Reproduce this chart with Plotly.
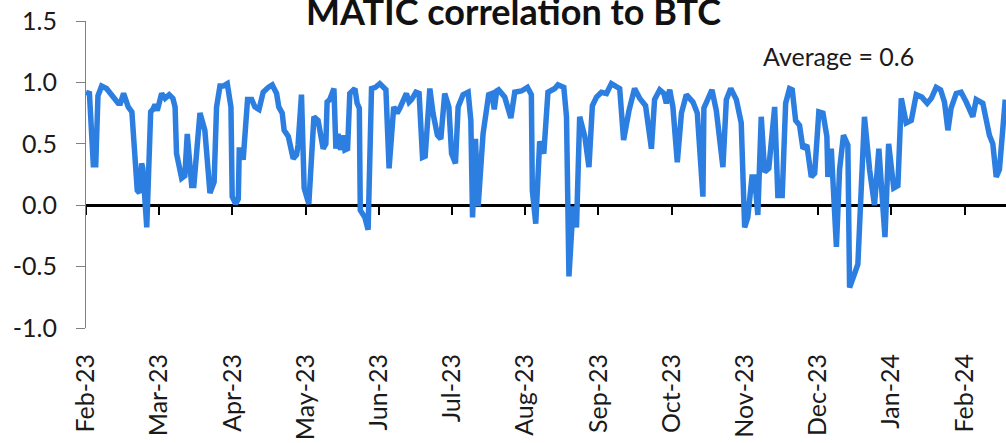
import pandas as pd
import plotly.graph_objects as go

# ---- data ----
start_date = "2023-02-08"
# day offsets from start_date
days = [0, 1.4, 3.0, 4.0, 4.9, 6.4, 8.4, 11.2, 13.2, 14.1, 15.4, 17.3, 18.8, 21.0, 21.9, 22.8, 23.3, 24.9,
        26.5, 27.4, 28.3, 29.2, 31.0, 32.4, 34.1, 35.6, 36.5, 37.1, 39.2, 40.5, 41.5, 43.3, 44.2, 46.7,
        48.7, 50.8, 52.5, 53.5, 54.9, 56.2, 57.9, 59.4, 59.9, 61.3, 62.4, 62.8, 63.8, 64.4, 65.1, 66.2,
        67.9, 69.2, 70.9, 72.6, 74.7, 76.3, 78.1, 79.0, 80.4, 81.2, 82.9, 84.9, 86.3, 86.9, 88.3, 89.4,
        91.3, 93.4, 95.1, 97.2, 98.3, 98.8, 99.9, 101.6, 102.4, 103.3, 104.3, 105.4, 106.1, 107.2, 108.1,
        110.2, 111.1, 112.0, 112.4, 114.3, 115.6, 117.0, 118.6, 120.4, 122.9, 124.2, 126.1, 127.5, 128.6,
        131.3, 132.4, 133.4, 135.2, 136.5, 137.9, 139.0, 140.9, 142.2, 144.0, 145.4, 147.0, 148.7, 149.8,
        151.4, 152.5, 154.5, 156.6, 157.7, 158.4, 159.6, 160.7, 162.7, 165.0, 166.3, 167.3, 168.3, 169.1,
        171.6, 174.1, 175.7, 178.4, 180.9, 182.5, 182.9, 184.3, 185.9, 187.6, 189.3, 192.1, 193.4, 195.8,
        196.9, 197.9, 199.6, 201.0, 202.3, 204.4, 206.1, 207.5, 209.2, 211.2, 213.3, 215.3, 218.7, 220.3,
        222.5, 224.8, 226.9, 229.3, 231.7, 233.0, 235.1, 236.8, 237.8, 239.2, 240.5, 242.3, 244.0, 246.0,
        248.7, 250.5, 252.8, 253.2, 254.9, 256.5, 258.3, 261.0, 262.4, 264.2, 266.5, 268.5, 269.9, 271.2,
        272.9, 274.0, 275.3, 276.7, 278.1, 279.8, 282.2, 283.5, 285.3, 286.7, 288.3, 289.4, 290.8, 292.4,
        293.8, 295.4, 297.2, 298.6, 300.3, 302.0, 303.6, 304.0, 305.4, 307.5, 308.8, 310.4, 312.2, 312.9,
        314.9, 316.3, 319.0, 321.1, 323.1, 324.9, 327.4, 328.9, 331.0, 332.7, 334.1, 336.1, 338.2, 340.2,
        342.5, 344.7, 346.4, 348.4, 350.2, 351.8, 353.2, 354.5, 356.6, 358.6, 360.7, 363.4, 364.8, 367.5,
        370.2, 371.6, 373.0, 374.3, 376.7]
correlation = [0.92, 0.91, 0.33, 0.33, 0.89, 0.97, 0.95, 0.87, 0.83, 0.83, 0.91, 0.80, 0.76, 0.12, 0.10,
               0.34, 0.30, -0.18, 0.76, 0.78, 0.82, 0.77, 0.91, 0.87, 0.90, 0.87, 0.80, 0.42, 0.22, 0.24,
               0.58, 0.16, 0.16, 0.75, 0.61, 0.10, 0.19, 0.80, 0.97, 0.97, 0.99, 0.80, 0.07, 0.01, 0.05,
               0.45, 0.45, 0.37, 0.56, 0.86, 0.86, 0.80, 0.78, 0.92, 0.96, 0.98, 0.91, 0.80, 0.75, 0.61,
               0.56, 0.38, 0.41, 0.49, 0.90, 0.14, 0.01, 0.72, 0.69, 0.46, 0.50, 0.84, 0.86, 0.95, 0.46,
               0.58, 0.45, 0.57, 0.45, 0.46, 0.91, 0.95, 0.83, 0.79, -0.04, -0.10, -0.20, 0.95, 0.96, 0.99,
               0.94, 0.30, 0.80, 0.75, 0.79, 0.91, 0.84, 0.86, 0.92, 0.91, 0.39, 0.40, 0.95, 0.75, 0.57,
               0.54, 0.91, 0.80, 0.42, 0.34, 0.80, 0.90, 0.92, 0.69, -0.10, 0.54, -0.01, 0.58, 0.90, 0.91,
               0.78, 0.93, 0.94, 0.88, 0.71, 0.92, 0.93, 0.96, 0.90, 0.12, -0.15, 0.52, 0.42, 0.92, 0.95,
               0.98, 0.96, 0.72, -0.58, -0.01, -0.18, 0.72, 0.56, 0.31, 0.81, 0.88, 0.92, 0.91, 0.99, 0.95,
               0.53, 0.77, 0.95, 0.87, 0.81, 0.46, 0.86, 0.94, 0.91, 0.83, 0.94, 0.80, 0.35, 0.75, 0.90,
               0.84, 0.75, 0.07, 0.79, 0.86, 0.94, 0.77, 0.31, 0.86, 0.95, 0.86, 0.67, -0.18, -0.10, 0.23,
               0.23, -0.08, 0.72, 0.27, 0.30, 0.80, 0.08, 0.08, 0.83, 0.95, 0.94, 0.69, 0.65, 0.46, 0.49,
               0.23, 0.26, 0.76, 0.75, 0.56, 0.23, 0.46, -0.34, 0.29, 0.57, 0.49, -0.67, -0.56, -0.48, 0.72,
               0.29, 0.00, 0.46, -0.26, 0.50, 0.14, 0.16, 0.87, 0.67, 0.69, 0.90, 0.88, 0.83, 0.87, 0.96,
               0.94, 0.84, 0.61, 0.79, 0.91, 0.92, 0.84, 0.72, 0.86, 0.83, 0.57, 0.50, 0.23, 0.29, 0.86]
y_tickvals = [-1.0, -0.5, 0.0, 0.5, 1.0, 1.5]
y_ticktext = ["-1.0", "-0.5", "0.0", "0.5", "1.0", "1.5"]
tick_step_days = 30
n_ticks = 13
range_days = 377
title_text = "MATIC correlation to BTC"
avg_text = "Average = 0.6"

# ---- build ----
t0 = pd.Timestamp(start_date)
dates = t0 + pd.to_timedelta(days, unit="D")
x_tickvals = [t0 + pd.Timedelta(days=tick_step_days * k) for k in range(n_ticks)]
x_range = [t0, t0 + pd.Timedelta(days=range_days)]

FONT = "Lato"
fig = go.Figure()
fig.add_trace(go.Scatter(x=dates, y=correlation, mode="lines",
                         line=dict(color="#2c7fe0", width=5.5), showlegend=False,
                         hoverinfo="skip"))
# dummy trace for overlay axis at y=0
fig.add_trace(go.Scatter(x=x_range, y=[None, None], xaxis="x2", mode="lines",
                         showlegend=False, hoverinfo="skip"))

fig.update_layout(
    width=1006, height=443,
    margin=dict(l=86, r=0, t=21, b=115, autoexpand=False),
    paper_bgcolor="white", plot_bgcolor="white",
    font=dict(family=FONT, size=25, color="#1a1a1a"),
    xaxis=dict(type="date", range=x_range, tickvals=x_tickvals, tickformat="%b-%y",
               tickangle=-90, showline=False, showgrid=False, zeroline=False,
               automargin=False,
               ticks="", ticklabelstandoff=20, tickfont=dict(size=25, color="#1a1a1a")),
    xaxis2=dict(type="date", range=x_range, tickvals=x_tickvals, overlaying="x",
                anchor="free", position=0.4, showticklabels=False, showgrid=False,
                zeroline=False, showline=True, linecolor="black", linewidth=2.5,
                automargin=False,
                ticks="outside", ticklen=8, tickwidth=2, tickcolor="black",
                layer="below traces"),
    yaxis=dict(range=[-1, 1.5], tickvals=y_tickvals, ticktext=y_ticktext,
               showgrid=False, zeroline=False, showline=True, linecolor="#808080",
               automargin=False,
               linewidth=1, ticks="outside", ticklen=9, tickcolor="#808080",
               ticklabelstandoff=14, tickfont=dict(size=25, color="#1a1a1a")),
    annotations=[
        dict(text="<b>" + title_text + "</b>", xref="paper", yref="paper",
             x=(513 - 86) / 920, y=1, xanchor="center", yanchor="bottom", yshift=-14,
             showarrow=False, font=dict(family=FONT, size=36, color="#111111")),
        dict(text=avg_text, xref="paper", yref="paper", x=(838 - 86) / 920, y=0.886,
             xanchor="center", yanchor="middle", showarrow=False,
             font=dict(family=FONT, size=25, color="#1a1a1a")),
    ],
)

fig.write_html("out.html", config={"displayModeBar": False},
               post_script="document.body.style.margin='0px';")
